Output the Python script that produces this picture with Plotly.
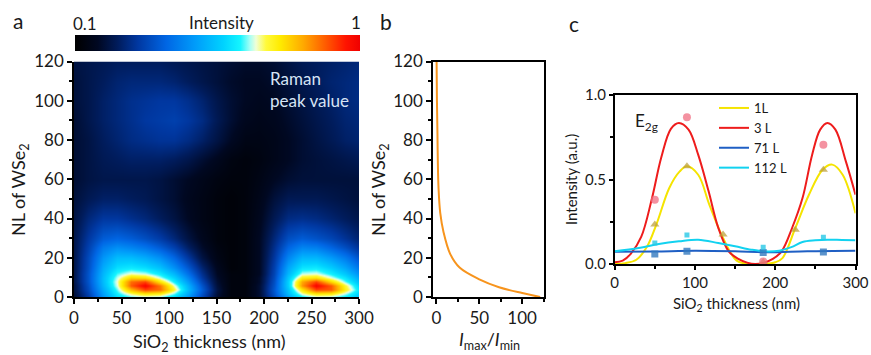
import plotly.graph_objects as go

W, H = 871, 355

# ---------------- panel a : Raman peak map ----------------
sio2_grid = [0, 15, 30, 45, 60, 75, 90, 105, 120, 135, 150, 165, 180, 195, 210, 225, 240, 255, 270, 285, 300]
nl_grid = [0, 2, 4, 6, 8, 10, 12, 15, 20, 25, 30, 40, 50, 60, 70, 80, 90, 100, 110, 120]
peak_map = [
    [0.10, 0.22, 0.40, 0.53, 0.58, 0.60, 0.59, 0.52, 0.40, 0.25, 0.10, 0.03, 0.03, 0.10, 0.25, 0.42, 0.55, 0.60, 0.59, 0.55, 0.48],
    [0.11, 0.24, 0.43, 0.57, 0.66, 0.72, 0.70, 0.60, 0.45, 0.28, 0.11, 0.03, 0.03, 0.10, 0.28, 0.48, 0.64, 0.72, 0.71, 0.62, 0.52],
    [0.12, 0.26, 0.45, 0.60, 0.78, 0.90, 0.86, 0.68, 0.48, 0.30, 0.12, 0.03, 0.03, 0.10, 0.29, 0.50, 0.72, 0.90, 0.88, 0.70, 0.55],
    [0.12, 0.27, 0.47, 0.63, 0.88, 0.98, 0.85, 0.64, 0.46, 0.28, 0.11, 0.03, 0.03, 0.10, 0.28, 0.52, 0.82, 0.98, 0.88, 0.68, 0.52],
    [0.13, 0.28, 0.48, 0.64, 0.86, 0.90, 0.72, 0.57, 0.42, 0.25, 0.10, 0.03, 0.03, 0.09, 0.27, 0.52, 0.80, 0.90, 0.74, 0.60, 0.48],
    [0.13, 0.28, 0.48, 0.62, 0.74, 0.72, 0.62, 0.52, 0.38, 0.22, 0.09, 0.03, 0.03, 0.09, 0.26, 0.50, 0.70, 0.72, 0.63, 0.55, 0.44],
    [0.13, 0.28, 0.47, 0.59, 0.64, 0.62, 0.56, 0.47, 0.34, 0.20, 0.08, 0.03, 0.03, 0.08, 0.25, 0.47, 0.62, 0.63, 0.57, 0.50, 0.40],
    [0.13, 0.27, 0.45, 0.54, 0.56, 0.54, 0.49, 0.40, 0.29, 0.17, 0.07, 0.02, 0.03, 0.08, 0.24, 0.44, 0.55, 0.56, 0.51, 0.44, 0.35],
    [0.13, 0.26, 0.41, 0.48, 0.48, 0.45, 0.40, 0.32, 0.22, 0.12, 0.05, 0.02, 0.03, 0.08, 0.22, 0.38, 0.47, 0.47, 0.42, 0.36, 0.28],
    [0.13, 0.24, 0.36, 0.40, 0.38, 0.35, 0.30, 0.24, 0.16, 0.09, 0.04, 0.02, 0.03, 0.08, 0.20, 0.32, 0.38, 0.37, 0.32, 0.27, 0.21],
    [0.13, 0.22, 0.30, 0.32, 0.30, 0.27, 0.23, 0.18, 0.12, 0.07, 0.03, 0.02, 0.03, 0.08, 0.18, 0.27, 0.30, 0.28, 0.25, 0.21, 0.17],
    [0.12, 0.18, 0.22, 0.22, 0.20, 0.18, 0.15, 0.12, 0.08, 0.05, 0.03, 0.02, 0.03, 0.07, 0.14, 0.19, 0.20, 0.19, 0.17, 0.15, 0.13],
    [0.11, 0.14, 0.16, 0.16, 0.15, 0.14, 0.12, 0.10, 0.07, 0.05, 0.03, 0.02, 0.03, 0.06, 0.11, 0.14, 0.14, 0.14, 0.13, 0.12, 0.11],
    [0.10, 0.12, 0.13, 0.13, 0.13, 0.13, 0.12, 0.10, 0.08, 0.06, 0.04, 0.03, 0.03, 0.05, 0.08, 0.10, 0.11, 0.11, 0.11, 0.11, 0.11],
    [0.10, 0.12, 0.14, 0.15, 0.16, 0.16, 0.16, 0.15, 0.13, 0.10, 0.07, 0.04, 0.03, 0.04, 0.06, 0.08, 0.10, 0.11, 0.12, 0.13, 0.14],
    [0.10, 0.12, 0.15, 0.17, 0.19, 0.20, 0.21, 0.21, 0.19, 0.16, 0.12, 0.08, 0.05, 0.05, 0.06, 0.08, 0.10, 0.12, 0.14, 0.16, 0.17],
    [0.10, 0.13, 0.16, 0.18, 0.20, 0.22, 0.23, 0.24, 0.22, 0.19, 0.14, 0.10, 0.07, 0.06, 0.07, 0.09, 0.11, 0.13, 0.15, 0.17, 0.18],
    [0.11, 0.13, 0.16, 0.18, 0.20, 0.21, 0.22, 0.22, 0.20, 0.17, 0.13, 0.10, 0.08, 0.07, 0.08, 0.10, 0.12, 0.14, 0.16, 0.18, 0.19],
    [0.11, 0.13, 0.15, 0.17, 0.18, 0.18, 0.18, 0.17, 0.15, 0.13, 0.11, 0.09, 0.08, 0.08, 0.09, 0.11, 0.13, 0.15, 0.17, 0.18, 0.19],
    [0.12, 0.13, 0.14, 0.15, 0.15, 0.15, 0.15, 0.14, 0.13, 0.12, 0.11, 0.10, 0.09, 0.09, 0.10, 0.12, 0.14, 0.15, 0.16, 0.17, 0.18],
]

jet_like = [
    [0.00, "rgb(0,0,0)"],
    [0.08, "rgb(0,8,34)"],
    [0.15, "rgb(0,28,92)"],
    [0.22, "rgb(0,55,160)"],
    [0.32, "rgb(0,102,228)"],
    [0.42, "rgb(0,155,250)"],
    [0.52, "rgb(0,210,255)"],
    [0.58, "rgb(20,245,255)"],
    [0.615, "rgb(170,255,245)"],
    [0.635, "rgb(240,255,215)"],
    [0.67, "rgb(255,250,60)"],
    [0.72, "rgb(255,235,0)"],
    [0.80, "rgb(255,170,0)"],
    [0.88, "rgb(255,90,0)"],
    [0.95, "rgb(255,20,0)"],
    [1.00, "rgb(240,0,0)"],
]

# ---------------- panel b : contrast ratio ----------------
nl_b = [0, 2, 5, 9, 15, 22, 33, 43, 56, 70, 83, 100, 120]
ratio_b = [121, 100, 73, 50, 27, 16, 8.3, 4.4, 2.4, 1.6, 1.2, 0.6, 0.2]

# ---------------- panel c : E2g intensity vs SiO2 ----------------
fit_1l_x = [0, 13, 27, 40, 52, 68, 81, 90, 104, 118, 135, 152, 168, 185, 200, 209, 225, 242, 259, 271, 284, 300]
fit_1l_y = [0.0, 0.005, 0.025, 0.10, 0.235, 0.45, 0.548, 0.578, 0.528, 0.35, 0.154, 0.02, 0.0, 0.0, 0.01, 0.035, 0.213, 0.41, 0.558, 0.588, 0.528, 0.30]
fit_3l_x = [0, 10, 20, 33, 46, 58, 70, 80, 92, 104, 117, 129, 142, 154, 165, 175, 186, 197, 208, 221, 234, 246, 256, 265, 275, 288, 300]
fit_3l_y = [0.01, 0.02, 0.06, 0.16, 0.38, 0.63, 0.80, 0.835, 0.795, 0.647, 0.43, 0.215, 0.075, 0.03, 0.008, 0.0, 0.008, 0.03, 0.075, 0.213, 0.39, 0.647, 0.795, 0.835, 0.795, 0.607, 0.41]
fit_71l_x = [0, 50, 100, 150, 190, 240, 300]
fit_71l_y = [0.072, 0.074, 0.078, 0.075, 0.070, 0.076, 0.079]
fit_112l_x = [0, 30, 55, 80, 104, 129, 150, 170, 186, 205, 220, 234, 250, 265, 283, 300]
fit_112l_y = [0.075, 0.095, 0.118, 0.134, 0.144, 0.124, 0.105, 0.085, 0.075, 0.079, 0.10, 0.13, 0.14, 0.144, 0.142, 0.14]

meas_1l_x = [50, 90, 135, 185, 225, 260]
meas_1l_y = [0.233, 0.578, 0.174, 0.012, 0.203, 0.558]
meas_3l_x = [50, 90, 185, 260]
meas_3l_y = [0.38, 0.868, 0.015, 0.706]
meas_71l_x = [50, 90, 185, 260]
meas_71l_y = [0.059, 0.075, 0.068, 0.071]
meas_112l_x = [50, 90, 185, 260]
meas_112l_y = [0.125, 0.172, 0.099, 0.158]

FONT = "Lato"
INK = "#1a1a1a"


def px_x(x):
    return x / W


def px_y(y):
    return 1 - y / H


fig = go.Figure()

fig.add_trace(go.Heatmap(
    x=sio2_grid, y=nl_grid, z=peak_map, zmin=0, zmax=1, zsmooth="best",
    colorscale=jet_like, xaxis="x", yaxis="y", hoverinfo="skip",
    colorbar=dict(orientation="h", x=px_x(217.5), xanchor="center",
                  y=px_y(43), yanchor="middle", len=285, lenmode="pixels",
                  thickness=16, thicknessmode="pixels", outlinewidth=0,
                  showticklabels=False, ticks="", xpad=0, ypad=0),
))

fig.add_trace(go.Scatter(
    x=ratio_b, y=nl_b, mode="lines", xaxis="x2", yaxis="y2",
    line=dict(color="#f7941d", width=2, shape="spline"), showlegend=False,
))

fits = [
    ("1L", fit_1l_x, fit_1l_y, "#f5e400"),
    ("3 L", fit_3l_x, fit_3l_y, "#ee1c1c"),
    ("71 L", fit_71l_x, fit_71l_y, "#1f5fc4"),
    ("112 L", fit_112l_x, fit_112l_y, "#12d2f0"),
]
for name, xs, ys, col in fits:
    fig.add_trace(go.Scatter(
        x=xs, y=ys, mode="lines", name=name, xaxis="x3", yaxis="y3",
        line=dict(color=col, width=2, shape="spline", smoothing=1.0),
    ))

meas = [
    (meas_1l_x, meas_1l_y, "triangle-up", "rgba(190,160,60,0.75)", 8),
    (meas_3l_x, meas_3l_y, "circle", "rgba(240,110,130,0.75)", 8),
    (meas_71l_x, meas_71l_y, "square", "rgba(50,120,190,0.8)", 7),
    (meas_112l_x, meas_112l_y, "square", "rgba(40,200,230,0.8)", 5),
]
for xs, ys, sym, col, sz in meas:
    fig.add_trace(go.Scatter(
        x=xs, y=ys, mode="markers", xaxis="x3", yaxis="y3", showlegend=False,
        marker=dict(symbol=sym, color=col, size=sz, line=dict(width=0)),
    ))

axis_common = dict(showline=True, linecolor="black", linewidth=1.5, ticks="outside",
                   ticklen=5, tickwidth=1.5, tickcolor="black", showgrid=False,
                   zeroline=False, automargin=False, fixedrange=True)
big = dict(family=FONT, size=17, color=INK)
small = dict(family=FONT, size=15, color=INK)

ya_dom = [px_y(297), px_y(61.5)]
fig.update_layout(
    width=W, height=H, margin=dict(l=0, r=0, t=0, b=0),
    paper_bgcolor="white", plot_bgcolor="white",
    font=dict(family=FONT, color=INK),
    xaxis=dict(axis_common, domain=[px_x(74), px_x(359)], range=[0, 300], anchor="y",
               tickvals=[0, 50, 100, 150, 200, 250, 300], tickfont=big,
               minor=dict(dtick=25, tick0=0, ticks="outside", ticklen=3, tickcolor="black")),
    yaxis=dict(axis_common, domain=ya_dom, range=[0, 120], anchor="x",
               tickvals=[0, 20, 40, 60, 80, 100, 120], tickfont=big,
               minor=dict(dtick=10, tick0=0, ticks="outside", ticklen=3, tickcolor="black")),
    xaxis2=dict(axis_common, domain=[px_x(433), px_x(543.6)], range=[-4, 125], anchor="y2",
                mirror=True, tickvals=[0, 50, 100], tickfont=big,
                minor=dict(dtick=25, tick0=0, ticks="outside", ticklen=3, tickcolor="black")),
    yaxis2=dict(axis_common, domain=ya_dom, range=[0, 120], anchor="x2", mirror=True,
                tickvals=[0, 20, 40, 60, 80, 100, 120], tickfont=big,
                minor=dict(dtick=10, tick0=0, ticks="outside", ticklen=3, tickcolor="black")),
    xaxis3=dict(axis_common, domain=[px_x(614.7), px_x(855.5)], range=[0, 300], anchor="y3",
                mirror=True, tickvals=[0, 100, 200, 300], tickfont=small, ticklen=4,
                minor=dict(dtick=50, tick0=0, ticks="outside", ticklen=3, tickcolor="black")),
    yaxis3=dict(axis_common, domain=[px_y(264), px_y(95)], range=[0, 1.0], anchor="x3",
                mirror=True, tickvals=[0, 0.5, 1.0], ticktext=["0.0", "0.5", "1.0"],
                tickfont=small, ticklen=4,
                minor=dict(dtick=0.25, tick0=0, ticks="outside", ticklen=3, tickcolor="black")),
    legend=dict(x=px_x(714), y=px_y(93), xanchor="left", yanchor="top",
                bgcolor="rgba(0,0,0,0)", borderwidth=0,
                font=dict(family=FONT, size=13, color=INK),
                tracegroupgap=0, itemwidth=30),
)


def note(text, x, y, size=17, color=INK, xanchor="center", **kw):
    fig.add_annotation(text=text, x=px_x(x), y=px_y(y), xref="paper", yref="paper",
                       xanchor=xanchor, yanchor="middle", showarrow=False,
                       font=dict(family=FONT, size=size, color=color), **kw)


# panel letters
note("a", 18, 20, size=21)
note("b", 386, 21, size=21)
note("c", 574, 23, size=21)

# colour bar labels
note("0.1", 85, 23)
note("Intensity", 221, 22)
note("1", 356, 22)

note("Raman<br>peak value", 268, 89, size=17, color="#d6e4f5", xanchor="left", align="left")

# axis titles
note("SiO<sub>2</sub> thickness (nm)", 209, 342, size=18)
note("NL of WSe<sub>2</sub>", 20, 190, size=18, textangle=-90)
note("NL of WSe<sub>2</sub>", 380, 190, size=18, textangle=-90)
note("<i>I</i><sub>max</sub>/<i>I</i><sub>min</sub>", 490, 340, size=18)
note("SiO<sub>2</sub> thickness (nm)", 736, 304, size=15)
note("Intensity (a.u.)", 571, 180, size=15, textangle=-90)
note("E<sub>2g</sub>", 646, 122, size=17)

fig.write_html("out.html")
